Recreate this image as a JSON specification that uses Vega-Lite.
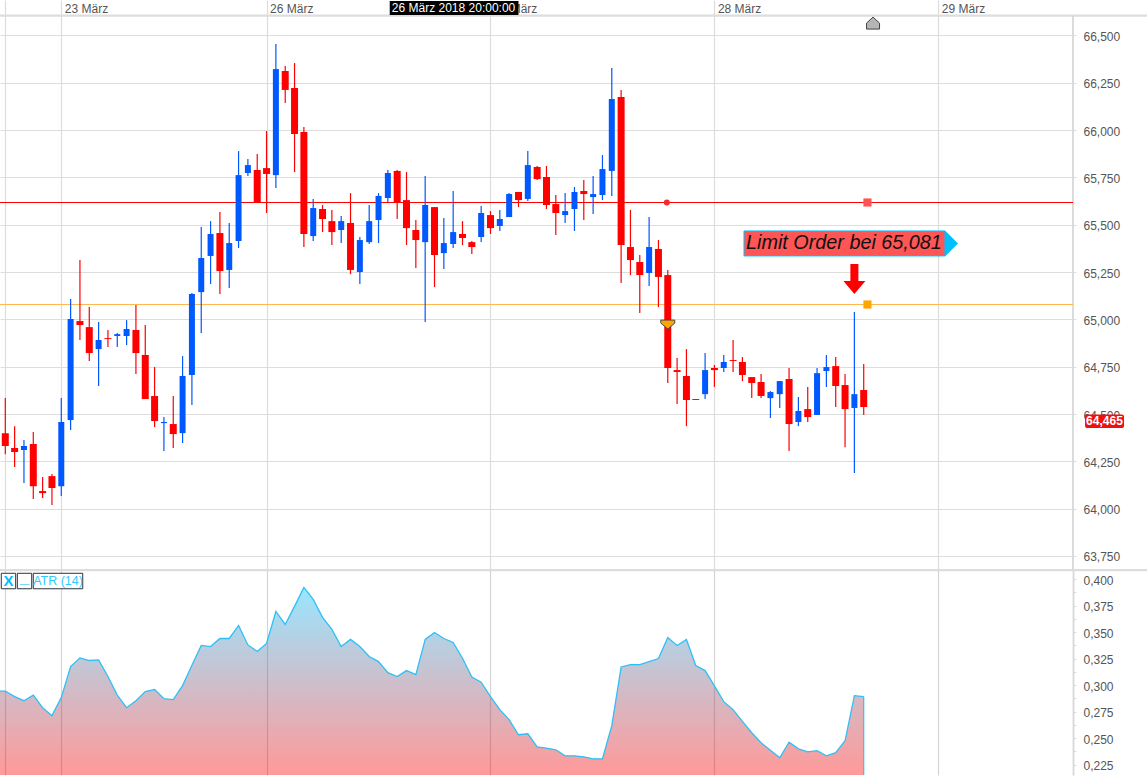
{
  "$schema": "https://vega.github.io/schema/vega-lite/v6.json",
  "background": "white",
  "padding": 0,
  "spacing": 0,
  "bounds": "flush",
  "config": {
    "view": {"stroke": null},
    "text": {"font": "Liberation Sans"},
    "axis": {"labelFont": "Liberation Sans", "labelFontSize": 12, "labelColor": "#555555", "title": null}
  },
  "datasets": {
    "candles": [
      {"i":0,"o":64.399,"h":64.584,"l":64.288,"c":64.331},
      {"i":1,"o":64.320,"h":64.436,"l":64.220,"c":64.299},
      {"i":2,"o":64.310,"h":64.363,"l":64.135,"c":64.331},
      {"i":3,"o":64.341,"h":64.405,"l":64.051,"c":64.119},
      {"i":4,"o":64.093,"h":64.167,"l":64.056,"c":64.082},
      {"i":5,"o":64.172,"h":64.183,"l":64.019,"c":64.109},
      {"i":6,"o":64.119,"h":64.584,"l":64.067,"c":64.458},
      {"i":7,"o":64.468,"h":65.107,"l":64.415,"c":65.002},
      {"i":8,"o":64.991,"h":65.313,"l":64.891,"c":64.970},
      {"i":9,"o":64.959,"h":65.065,"l":64.780,"c":64.822},
      {"i":10,"o":64.843,"h":64.986,"l":64.648,"c":64.891},
      {"i":11,"o":64.901,"h":64.944,"l":64.854,"c":64.896},
      {"i":12,"o":64.912,"h":64.928,"l":64.854,"c":64.922},
      {"i":13,"o":64.912,"h":64.996,"l":64.864,"c":64.949},
      {"i":14,"o":64.944,"h":65.076,"l":64.711,"c":64.822},
      {"i":15,"o":64.812,"h":64.970,"l":64.579,"c":64.579},
      {"i":16,"o":64.595,"h":64.748,"l":64.431,"c":64.463},
      {"i":17,"o":64.452,"h":64.484,"l":64.304,"c":64.458},
      {"i":18,"o":64.447,"h":64.595,"l":64.320,"c":64.394},
      {"i":19,"o":64.399,"h":64.806,"l":64.347,"c":64.701},
      {"i":20,"o":64.706,"h":65.139,"l":64.547,"c":65.134},
      {"i":21,"o":65.144,"h":65.488,"l":64.928,"c":65.324},
      {"i":22,"o":65.335,"h":65.519,"l":65.187,"c":65.451},
      {"i":23,"o":65.456,"h":65.567,"l":65.134,"c":65.255},
      {"i":24,"o":65.261,"h":65.509,"l":65.166,"c":65.403},
      {"i":25,"o":65.414,"h":65.889,"l":65.377,"c":65.762},
      {"i":26,"o":65.773,"h":65.847,"l":65.757,"c":65.815},
      {"i":27,"o":65.789,"h":65.873,"l":65.620,"c":65.620},
      {"i":28,"o":65.799,"h":65.995,"l":65.562,"c":65.768},
      {"i":29,"o":65.762,"h":66.455,"l":65.694,"c":66.322},
      {"i":30,"o":66.312,"h":66.338,"l":66.143,"c":66.212},
      {"i":31,"o":66.222,"h":66.354,"l":65.778,"c":65.979},
      {"i":32,"o":65.990,"h":66.016,"l":65.382,"c":65.451},
      {"i":33,"o":65.440,"h":65.636,"l":65.414,"c":65.588},
      {"i":34,"o":65.583,"h":65.604,"l":65.461,"c":65.530},
      {"i":35,"o":65.519,"h":65.578,"l":65.393,"c":65.461},
      {"i":36,"o":65.472,"h":65.546,"l":65.403,"c":65.519},
      {"i":37,"o":65.509,"h":65.667,"l":65.239,"c":65.261},
      {"i":38,"o":65.250,"h":65.435,"l":65.187,"c":65.419},
      {"i":39,"o":65.408,"h":65.604,"l":65.398,"c":65.519},
      {"i":40,"o":65.525,"h":65.667,"l":65.403,"c":65.652},
      {"i":41,"o":65.641,"h":65.789,"l":65.620,"c":65.773},
      {"i":42,"o":65.784,"h":65.789,"l":65.530,"c":65.620},
      {"i":43,"o":65.630,"h":65.778,"l":65.393,"c":65.482},
      {"i":44,"o":65.472,"h":65.525,"l":65.271,"c":65.419},
      {"i":45,"o":65.408,"h":65.757,"l":64.986,"c":65.604},
      {"i":46,"o":65.593,"h":65.593,"l":65.171,"c":65.340},
      {"i":47,"o":65.350,"h":65.535,"l":65.266,"c":65.403},
      {"i":48,"o":65.398,"h":65.678,"l":65.377,"c":65.461},
      {"i":49,"o":65.451,"h":65.519,"l":65.393,"c":65.430},
      {"i":50,"o":65.408,"h":65.414,"l":65.345,"c":65.382},
      {"i":51,"o":65.435,"h":65.599,"l":65.408,"c":65.562},
      {"i":52,"o":65.551,"h":65.572,"l":65.451,"c":65.482},
      {"i":53,"o":65.493,"h":65.578,"l":65.467,"c":65.530},
      {"i":54,"o":65.541,"h":65.667,"l":65.541,"c":65.662},
      {"i":55,"o":65.673,"h":65.673,"l":65.593,"c":65.630},
      {"i":56,"o":65.636,"h":65.889,"l":65.625,"c":65.815},
      {"i":57,"o":65.805,"h":65.810,"l":65.736,"c":65.741},
      {"i":58,"o":65.752,"h":65.810,"l":65.583,"c":65.604},
      {"i":59,"o":65.609,"h":65.657,"l":65.445,"c":65.562},
      {"i":60,"o":65.551,"h":65.667,"l":65.509,"c":65.572},
      {"i":61,"o":65.583,"h":65.699,"l":65.467,"c":65.673},
      {"i":62,"o":65.678,"h":65.736,"l":65.525,"c":65.662},
      {"i":63,"o":65.646,"h":65.757,"l":65.556,"c":65.662},
      {"i":64,"o":65.657,"h":65.868,"l":65.630,"c":65.794},
      {"i":65,"o":65.784,"h":66.328,"l":65.652,"c":66.164},
      {"i":66,"o":66.175,"h":66.212,"l":65.192,"c":65.393},
      {"i":67,"o":65.382,"h":65.578,"l":65.234,"c":65.313},
      {"i":68,"o":65.303,"h":65.340,"l":65.033,"c":65.234},
      {"i":69,"o":65.245,"h":65.541,"l":65.176,"c":65.382},
      {"i":70,"o":65.372,"h":65.419,"l":65.065,"c":65.224},
      {"i":71,"o":65.234,"h":65.261,"l":64.664,"c":64.743},
      {"i":72,"o":64.732,"h":64.796,"l":64.553,"c":64.722},
      {"i":73,"o":64.701,"h":64.843,"l":64.436,"c":64.574},
      {"i":74,"o":64.579,"h":64.579,"l":64.574,"c":64.574},
      {"i":75,"o":64.605,"h":64.822,"l":64.579,"c":64.732},
      {"i":76,"o":64.743,"h":64.759,"l":64.643,"c":64.732},
      {"i":77,"o":64.743,"h":64.812,"l":64.722,"c":64.775},
      {"i":78,"o":64.785,"h":64.891,"l":64.722,"c":64.780},
      {"i":79,"o":64.775,"h":64.801,"l":64.674,"c":64.706},
      {"i":80,"o":64.695,"h":64.695,"l":64.584,"c":64.664},
      {"i":81,"o":64.669,"h":64.711,"l":64.584,"c":64.595},
      {"i":82,"o":64.584,"h":64.621,"l":64.479,"c":64.616},
      {"i":83,"o":64.605,"h":64.674,"l":64.532,"c":64.674},
      {"i":84,"o":64.685,"h":64.743,"l":64.304,"c":64.447},
      {"i":85,"o":64.458,"h":64.590,"l":64.436,"c":64.516},
      {"i":86,"o":64.526,"h":64.643,"l":64.458,"c":64.484},
      {"i":87,"o":64.495,"h":64.743,"l":64.495,"c":64.716},
      {"i":88,"o":64.727,"h":64.812,"l":64.643,"c":64.748},
      {"i":89,"o":64.753,"h":64.801,"l":64.537,"c":64.648},
      {"i":90,"o":64.653,"h":64.711,"l":64.325,"c":64.526},
      {"i":91,"o":64.532,"h":65.039,"l":64.188,"c":64.605},
      {"i":92,"o":64.627,"h":64.764,"l":64.495,"c":64.537}
    ],
    "atr": [
      {"i":-0.57,"a":0.2943},{"i":0,"a":0.2943},{"i":1,"a":0.2890},{"i":2,"a":0.2852},{"i":3,"a":0.2905},{"i":4,"a":0.2786},
      {"i":5,"a":0.2711},{"i":6,"a":0.2881},{"i":7,"a":0.3174},{"i":8,"a":0.3256},{"i":9,"a":0.3231},{"i":10,"a":0.3237},
      {"i":11,"a":0.3080},{"i":12,"a":0.2905},{"i":13,"a":0.2786},{"i":14,"a":0.2852},{"i":15,"a":0.2938},{"i":16,"a":0.2957},
      {"i":17,"a":0.2871},{"i":18,"a":0.2862},{"i":19,"a":0.2994},{"i":20,"a":0.3186},{"i":21,"a":0.3373},{"i":22,"a":0.3363},
      {"i":23,"a":0.3439},{"i":24,"a":0.3439},{"i":25,"a":0.3562},{"i":26,"a":0.3378},{"i":27,"a":0.3316},{"i":28,"a":0.3392},
      {"i":29,"a":0.3694},{"i":30,"a":0.3571},{"i":31,"a":0.3742},{"i":32,"a":0.3921},{"i":33,"a":0.3808},{"i":34,"a":0.3638},
      {"i":35,"a":0.3524},{"i":36,"a":0.3363},{"i":37,"a":0.3430},{"i":38,"a":0.3363},{"i":39,"a":0.3269},{"i":40,"a":0.3221},
      {"i":41,"a":0.3117},{"i":42,"a":0.3080},{"i":43,"a":0.3136},{"i":44,"a":0.3098},{"i":45,"a":0.3430},{"i":46,"a":0.3496},
      {"i":47,"a":0.3439},{"i":48,"a":0.3401},{"i":49,"a":0.3253},{"i":50,"a":0.3076},{"i":51,"a":0.3026},{"i":52,"a":0.2890},
      {"i":53,"a":0.2767},{"i":54,"a":0.2673},{"i":55,"a":0.2531},{"i":56,"a":0.2540},{"i":57,"a":0.2417},{"i":58,"a":0.2404},
      {"i":59,"a":0.2389},{"i":60,"a":0.2332},{"i":61,"a":0.2332},{"i":62,"a":0.2323},{"i":63,"a":0.2304},{"i":64,"a":0.2304},
      {"i":65,"a":0.2616},{"i":66,"a":0.3170},{"i":67,"a":0.3193},{"i":68,"a":0.3193},{"i":69,"a":0.3221},{"i":70,"a":0.3250},
      {"i":71,"a":0.3448},{"i":72,"a":0.3373},{"i":73,"a":0.3430},{"i":74,"a":0.3184},{"i":75,"a":0.3136},{"i":76,"a":0.2991},
      {"i":77,"a":0.2843},{"i":78,"a":0.2767},{"i":79,"a":0.2657},{"i":80,"a":0.2550},{"i":81,"a":0.2455},{"i":82,"a":0.2385},
      {"i":83,"a":0.2313},{"i":84,"a":0.2461},{"i":85,"a":0.2398},{"i":86,"a":0.2370},{"i":87,"a":0.2380},{"i":88,"a":0.2332},
      {"i":89,"a":0.2361},{"i":90,"a":0.2474},{"i":91,"a":0.2900},{"i":92,"a":0.2890}
    ]
  },
  "vconcat": [
    {
      "width": 1073,
      "height": 570,
      "encoding": {
        "x": {
          "field": "i",
          "type": "quantitative",
          "scale": {"domain": [-0.568, 114.43], "nice": false, "zero": false, "padding": 0},
          "axis": {
            "orient": "top",
            "values": [0, 6, 28, 52, 76, 100],
            "labelExpr": "{'6':'23 März','28':'26 März','52':'27 März','76':'28 März','100':'29 März'}[datum.value] || ''",
            "labelAlign": "left",
            "labelBaseline": "alphabetic",
            "labelOffset": 3,
            "labelPadding": -12,
            "labelOverlap": false,
            "labelBound": false,
            "labelFlush": false,
            "ticks": false,
            "domain": false,
            "grid": true,
            "gridColor": "#dcdcdc",
            "gridWidth": 1.2
          }
        },
        "y": {
          "field": "p",
          "type": "quantitative",
          "scale": {"domain": [63.676, 66.687], "nice": false, "zero": false},
          "axis": {
            "orient": "right",
            "values": [63.75,63.875,64,64.125,64.25,64.375,64.5,64.625,64.75,64.875,65,65.125,65.25,65.375,65.5,65.625,65.75,65.875,66,66.125,66.25,66.375,66.5],
            "labelExpr": "datum.value % 0.25 == 0 ? replace(format(datum.value, '.3f'), '.', ',') : ''",
            "labelPadding": 7,
            "labelOffset": 1,
            "labelOverlap": false,
            "labelBound": false,
            "labelFlush": false,
            "tickSize": 3,
            "tickColor": "#dddddd",
            "domain": false,
            "grid": true,
            "gridColor": "#dddddd",
            "gridWidth": 1.2,
            "gridOpacity": {"condition": {"test": "datum.value % 0.25 == 0", "value": 1}, "value": 0}
          }
        }
      },
      "layer": [
        {
          "data": {"values": [{"i": -0.568, "i2": 122.4, "p": 66.61, "p2": 66.599}, {"i": -0.568, "i2": 122.4, "p": 63.681, "p2": 63.67}]},
          "mark": {"type": "rect", "color": "#dddddd"},
          "encoding": {"x2": {"field": "i2"}, "y2": {"field": "p2"}}
        },
        {
          "data": {"values": [{"i": 114.43, "p": 66.604, "p2": 63.676}]},
          "mark": {"type": "rule", "color": "#d8d8d8", "strokeWidth": 1.8},
          "encoding": {"y2": {"field": "p2"}}
        },
        {
          "data": {"values": [{"i": -0.568, "i2": 114.43, "p": 65.6173}]},
          "mark": {"type": "rule", "color": "#ff0000", "strokeWidth": 1, "clip": true},
          "encoding": {"x2": {"field": "i2"}}
        },
        {
          "data": {"values": [{"i": -0.568, "i2": 114.43, "p": 65.0785}]},
          "mark": {"type": "rule", "color": "#ffb84d", "strokeWidth": 1, "clip": true},
          "encoding": {"x2": {"field": "i2"}}
        },
        {
          "data": {"name": "candles"},
          "mark": {"type": "rule", "strokeWidth": 1.2},
          "encoding": {
            "y": {"field": "l", "type": "quantitative", "axis": {"orient": "right"}},
            "y2": {"field": "h"},
            "color": {"condition": {"test": "datum.c < datum.o", "value": "#ff0000"}, "value": "#0058ff"}
          }
        },
        {
          "data": {"name": "candles"},
          "mark": {"type": "bar"},
          "encoding": {
            "y": {"field": "o", "type": "quantitative", "axis": {"orient": "right"}},
            "y2": {"field": "c"},
            "size": {"condition": {"test": "datum.c < datum.o", "value": 7}, "value": 6},
            "color": {"condition": {"test": "datum.c < datum.o", "value": "#ff0000"}, "value": "#0058ff"}
          }
        },
        {
          "data": {"values": [{"i": 70.9, "p": 65.6173}]},
          "mark": {"type": "point", "shape": "circle", "filled": true, "size": 36, "color": "#f52a2a", "opacity": 1}
        },
        {
          "data": {"values": [{"i": 92.4, "p": 65.6173}]},
          "mark": {"type": "point", "shape": "square", "filled": true, "size": 66, "color": "#ff5252", "opacity": 1}
        },
        {
          "data": {"values": [{"i": 92.4, "p": 65.0785}]},
          "mark": {"type": "point", "shape": "square", "filled": true, "size": 66, "color": "#ffa500", "opacity": 1}
        },
        {
          "data": {"values": [{"i": 71, "p": 64.975}]},
          "mark": {"type": "point", "shape": "M-7,-4 L7,-4 L7,-1 L0,5 L-7,-1 Z", "size": 4, "filled": true, "fill": "#ffa500", "stroke": "#4a4a4a", "strokeWidth": 1, "opacity": 1}
        },
        {
          "data": {"values": [{"i": 93, "p": 66.565}]},
          "mark": {"type": "point", "shape": "M-6.5,6 L-6.5,0 L0,-6 L6.5,0 L6.5,6 Z", "size": 4, "filled": true, "fill": "#b5b5b5", "stroke": "#444444", "strokeWidth": 1, "opacity": 1}
        },
        {
          "data": {"values": [{"i": 91, "p": 65.213}]},
          "mark": {"type": "point", "shape": "M-4,-15 L4,-15 L4,2 L11,2 L0,15 L-11,2 L-4,2 Z", "size": 4, "filled": true, "fill": "#ff0000", "stroke": null, "opacity": 1}
        },
        {
          "data": {"values": [{"i": 79.17, "i2": 100.71, "p": 65.467, "p2": 65.335}]},
          "mark": {"type": "rect", "fill": "#ff5555", "stroke": "#00bfff", "strokeWidth": 1},
          "encoding": {"x2": {"field": "i2"}, "y2": {"field": "p2"}}
        },
        {
          "data": {"values": [{"i": 100.71, "p": 65.401}]},
          "mark": {"type": "point", "shape": "M0,-13 L13,0 L0,13 Z", "size": 4, "filled": true, "fill": "#00bfff", "stroke": null, "opacity": 1}
        },
        {
          "data": {"values": [{"i": 79.39, "p": 65.401, "t": "Limit Order bei 65,081"}]},
          "mark": {"type": "text", "align": "left", "baseline": "middle", "fontSize": 19.8, "fontStyle": "italic", "color": "#111111"},
          "encoding": {"text": {"field": "t"}}
        },
        {
          "data": {"values": [{"i": 41.2, "i2": 55, "p": 66.682, "p2": 66.608}]},
          "mark": {"type": "rect", "fill": "#000000"},
          "encoding": {"x2": {"field": "i2"}, "y2": {"field": "p2"}}
        },
        {
          "data": {"values": [{"i": 48.04, "p": 66.645, "t": "26 März 2018 20:00:00"}]},
          "mark": {"type": "text", "align": "center", "baseline": "middle", "fontSize": 12, "color": "#ffffff"},
          "encoding": {"text": {"field": "t"}}
        },
        {
          "data": {"values": [{"i": 115.72, "i2": 119.9, "p": 64.497, "p2": 64.426}]},
          "mark": {"type": "rect", "fill": "#f01010", "cornerRadius": 2},
          "encoding": {"x2": {"field": "i2"}, "y2": {"field": "p2"}}
        },
        {
          "data": {"values": [{"i": 117.8, "p": 64.462, "t": "64,465"}]},
          "mark": {"type": "text", "align": "center", "baseline": "middle", "fontSize": 12, "fontWeight": "bold", "color": "#ffffff"},
          "encoding": {"text": {"field": "t"}}
        }
      ]
    },
    {
      "width": 1073,
      "height": 205,
      "encoding": {
        "x": {
          "field": "i",
          "type": "quantitative",
          "scale": {"domain": [-0.568, 114.43], "nice": false, "zero": false},
          "axis": {
            "values": [0, 6, 28, 52, 76, 100],
            "labels": false,
            "ticks": false,
            "domain": false,
            "grid": true,
            "gridColor": "#d4d4d4",
            "gridWidth": 1.2
          }
        },
        "y": {
          "field": "a",
          "type": "quantitative",
          "scale": {"domain": [0.2151, 0.4085], "nice": false, "zero": false},
          "axis": {
            "orient": "right",
            "values": [0.225,0.2375,0.25,0.2625,0.275,0.2875,0.3,0.3125,0.325,0.3375,0.35,0.3625,0.375,0.3875,0.4],
            "labelExpr": "round(datum.value * 1000) % 25 == 0 ? replace(format(datum.value, '.3f'), '.', ',') : ''",
            "labelPadding": 7,
            "labelOffset": 1,
            "labelOverlap": false,
            "labelBound": false,
            "labelFlush": false,
            "tickSize": 3,
            "tickColor": "#dddddd",
            "domainColor": "#d8d8d8",
            "domainWidth": 1.8,
            "grid": false
          }
        }
      },
      "layer": [
        {
          "data": {"name": "atr"},
          "mark": {
            "type": "area",
            "clip": true,
            "opacity": 1,
            "line": {"color": "#2cc0f5", "strokeWidth": 1.3, "clip": true},
            "color": {
              "gradient": "linear",
              "x1": 1,
              "y1": 0,
              "x2": 1,
              "y2": 1,
              "stops": [
                {"offset": 0, "color": "rgba(0,191,255,0.4)"},
                {"offset": 1, "color": "rgba(255,0,0,0.4)"}
              ]
            }
          },
          "encoding": {"y2": {"datum": 0.2151}}
        },
        {
          "data": {"values": [{"i": 92, "a": 0.289, "a2": 0.2151}]},
          "mark": {"type": "rule", "color": "#2cc0f5", "strokeWidth": 1.2},
          "encoding": {"y2": {"field": "a2"}}
        },
        {
          "data": {"values": [
            {"i": -0.43, "i2": 1.11, "a": 0.4054, "a2": 0.3908},
            {"i": 1.29, "i2": 2.83, "a": 0.4054, "a2": 0.3908},
            {"i": 3.0, "i2": 8.3, "a": 0.4054, "a2": 0.3908}
          ]},
          "mark": {"type": "rect", "fill": "#ffffff", "stroke": "#2b3340", "strokeWidth": 1},
          "encoding": {"x2": {"field": "i2"}, "y2": {"field": "a2"}}
        },
        {
          "data": {"values": [{"i": 0.34, "a": 0.3981, "t": "X"}]},
          "mark": {"type": "text", "align": "center", "baseline": "middle", "fontSize": 15, "fontWeight": "bold", "color": "#00bfff"},
          "encoding": {"text": {"field": "t"}}
        },
        {
          "data": {"values": [{"i": 2.06, "a": 0.4005, "t": "_"}]},
          "mark": {"type": "text", "align": "center", "baseline": "middle", "fontSize": 17, "fontWeight": "bold", "color": "#00bfff"},
          "encoding": {"text": {"field": "t"}}
        },
        {
          "data": {"values": [{"i": 5.65, "a": 0.3981, "t": "ATR (14)"}]},
          "mark": {"type": "text", "align": "center", "baseline": "middle", "fontSize": 12.5, "color": "#33c9ff"},
          "encoding": {"text": {"field": "t"}}
        }
      ]
    }
  ]
}
